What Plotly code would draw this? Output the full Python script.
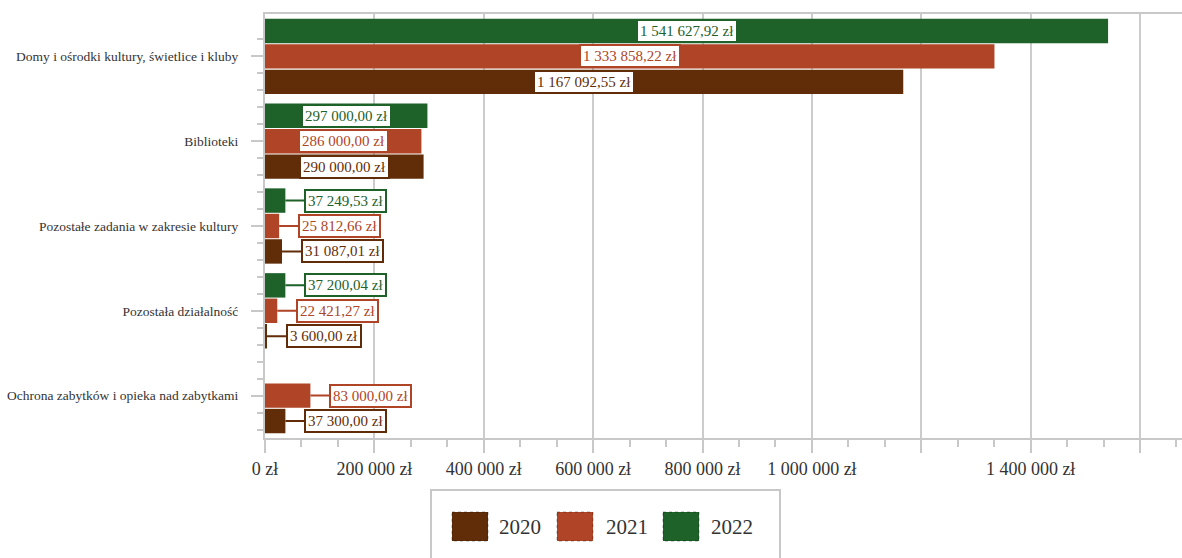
import plotly.graph_objects as go

# ---- data ----
categories = [
    "Domy i ośrodki kultury, świetlice i kluby",
    "Biblioteki",
    "Pozostałe zadania w zakresie kultury",
    "Pozostała działalność",
    "Ochrona zabytków i opieka nad zabytkami",
]
years = ["2020", "2021", "2022"]
v2020 = [1167092.55, 290000.00, 31087.01, 3600.00, 37300.00]
v2021 = [1333858.22, 286000.00, 25812.66, 22421.27, 83000.00]
v2022 = [1541627.92, 297000.00, 37249.53, 37200.04, None]
x_tick_values = [0, 200000, 400000, 600000, 800000, 1000000, 1200000, 1400000, 1600000]
x_tick_labels = ["0 zł", "200 000 zł", "400 000 zł", "600 000 zł", "800 000 zł",
                 "1 000 000 zł", "", "1 400 000 zł", ""]

series = [v2020, v2021, v2022]
colors = ["#612d08", "#af4427", "#1e6129"]

# ---- layout geometry ----
W, H = 1182, 558
ML, MR, MT, MB = 265, 0, 14, 120
PW, PH = W - ML - MR, H - MT - MB
FONT = "Liberation Serif"
GRID = "#cccccc"
AXIS = "#c8c8c8"
TEXT = "#333333"


def paper_x(px):
    return (px - ML) / PW


def paper_y(py):
    return (H - MB - py) / PH


def fmt(v):
    return f"{v:,.2f}".replace(",", " ").replace(".", ",") + " zł"


# categories listed top to bottom
ypos = list(range(len(categories) - 1, -1, -1))

fig = go.Figure()
for name, vals, col in zip(years, series, colors):
    fig.add_trace(go.Bar(
        y=ypos, x=vals, orientation="h", name=name,
        marker=dict(color=col, line=dict(width=0)),
        showlegend=False, hoverinfo="x+name",
    ))

# value labels: centred inside long bars, pulled out with a leader line for short ones
n = len(series)
slot = (1 - 0.1) / n
annotations = []
for i, (vals, col) in enumerate(zip(series, colors)):
    off = (i - (n - 1) / 2) * slot
    for yp, v in zip(ypos, vals):
        if v is None:
            continue
        common = dict(
            y=yp + off, xref="x", yref="y", text=fmt(v),
            font=dict(family=FONT, size=15, color=col),
            bgcolor="white", bordercolor=col, borderwidth=2, borderpad=2,
        )
        if v >= 200000:
            annotations.append(dict(x=v / 2, showarrow=False, xanchor="center", **common))
        else:
            annotations.append(dict(
                x=v, showarrow=True, arrowhead=0, arrowwidth=2, arrowcolor=col,
                ax=19, ay=0, axref="pixel", ayref="pixel", xanchor="left",
                standoff=0, **common))

# legend drawn as a framed box below the plot
shapes = [dict(
    type="rect", xref="paper", yref="paper",
    x0=paper_x(431), x1=paper_x(780), y0=paper_y(490), y1=paper_y(565),
    line=dict(color=AXIS, width=2), fillcolor="rgba(0,0,0,0)", layer="above",
)]
legend_items = [(452, 497), (557, 604), (663, 709)]
for (sx, tx), name, col in zip(legend_items, years, colors):
    shapes.append(dict(
        type="rect", xref="paper", yref="paper",
        x0=paper_x(sx), x1=paper_x(sx + 36), y0=paper_y(512), y1=paper_y(541),
        fillcolor=col, line=dict(color="rgba(0,0,0,0.35)", width=1, dash="dot"),
        layer="above",
    ))
    annotations.append(dict(
        x=paper_x(tx), y=paper_y(527), xref="paper", yref="paper",
        text=name, showarrow=False, xanchor="left", yanchor="middle",
        font=dict(family=FONT, size=21, color=TEXT),
    ))

minor_x = [k * 200000 / 3 for k in range(0, 26) if k % 3 != 0]
minor_y = [round(k * 0.2 - 0.4, 2) for k in range(0, 24) if round(k * 0.2 - 0.4, 2) % 1 != 0]

fig.update_layout(
    width=W, height=H,
    margin=dict(l=ML, r=MR, t=MT, b=MB, pad=0),
    paper_bgcolor="white", plot_bgcolor="white",
    barmode="group", bargap=0.1, bargroupgap=0.04,
    font=dict(family=FONT, color=TEXT),
    annotations=annotations, shapes=shapes,
    xaxis=dict(
        range=[0, 1676800], tickmode="array",
        tickvals=x_tick_values, ticktext=x_tick_labels,
        tickfont=dict(family=FONT, size=18, color=TEXT),
        showgrid=True, gridcolor=GRID, gridwidth=2,
        showline=True, linecolor=AXIS, linewidth=2, mirror=True,
        ticks="outside", ticklen=13, tickwidth=2, tickcolor=AXIS,
        zeroline=False,
        minor=dict(tickmode="array", tickvals=minor_x, ticks="outside",
                   ticklen=7, tickwidth=2, tickcolor=AXIS, showgrid=False),
    ),
    yaxis=dict(
        range=[-0.5, 4.5], tickmode="array",
        tickvals=ypos, ticktext=categories,
        tickfont=dict(family=FONT, size=13.5, color=TEXT),
        showgrid=False, zeroline=False,
        showline=True, linecolor=AXIS, linewidth=2,
        ticks="outside", ticklen=12, tickwidth=2, tickcolor=AXIS,
        ticklabelstandoff=10,
        minor=dict(tickmode="array", tickvals=minor_y, ticks="outside",
                   ticklen=6, tickwidth=2, tickcolor=AXIS, showgrid=False),
    ),
)

fig.write_html("out.html")
